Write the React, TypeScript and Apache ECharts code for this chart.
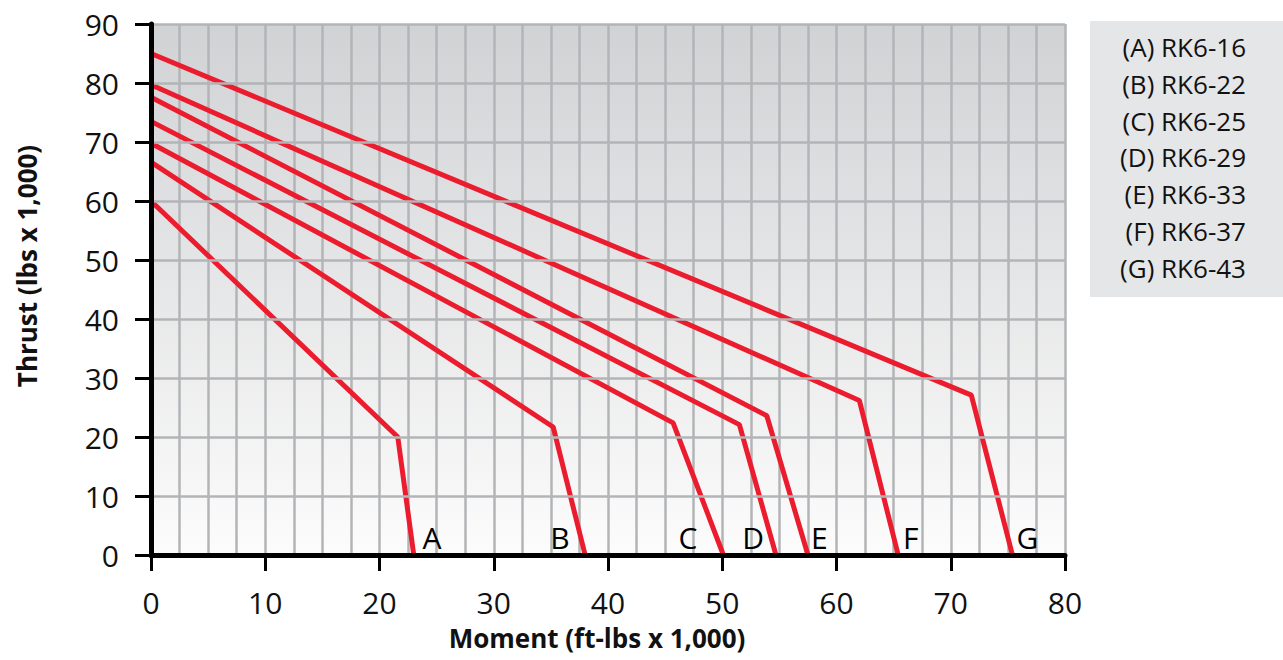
import React, { useEffect, useRef } from "react";
import * as echarts from "echarts";

const seriesNames = ["(A) RK6-16", "(B) RK6-22", "(C) RK6-25", "(D) RK6-29", "(E) RK6-33", "(F) RK6-37", "(G) RK6-43"];
const curveLetters = ["A", "B", "C", "D", "E", "F", "G"];
const thrustAtZero = [60, 66.6, 69.8, 73.5, 77.6, 79.7, 85];
const kneeMoment = [21.6, 35.2, 45.7, 51.5, 53.9, 62.0, 71.8];
const kneeThrust = [20, 21.7, 22.4, 22.1, 23.6, 26.2, 27.1];
const maxMoment = [23.0, 38.0, 50.1, 54.7, 57.5, 65.4, 75.4];
const letterMoment = [24.6, 35.8, 47.0, 52.7, 58.5, 66.5, 76.7];
const letterThrust = [3, 3, 3, 3, 3, 3, 3];
const xTitle = "Moment (ft-lbs x 1,000)";
const yTitle = "Thrust (lbs x 1,000)";

const FONT = "'Open Sans', 'Noto Sans', sans-serif";
const RED = "#ec1c2f";

export default function App() {
  const ref = useRef<HTMLDivElement>(null);
  useEffect(() => {
    if (!ref.current) return;
    const chart = echarts.init(ref.current, null, { renderer: "svg" });
    const lineSeries = seriesNames.map((name, i) => ({
      name,
      type: "line",
      xAxisIndex: 1,
      symbol: "none",
      lineStyle: { color: RED, width: 5 },
      data: [
        [0, thrustAtZero[i]],
        [kneeMoment[i], kneeThrust[i]],
        [maxMoment[i], 0],
      ],
      z: 3,
    }));
    const letterSeries = {
      type: "scatter",
      xAxisIndex: 1,
      symbolSize: 0,
      itemStyle: { opacity: 1 },
      data: curveLetters.map((l, i) => ({ value: [letterMoment[i], letterThrust[i]], name: l })),
      label: {
        show: true,
        position: "inside",
        formatter: (p: any) => p.name,
        color: "#000",
        fontSize: 30,
        fontFamily: FONT,
      },
      z: 4,
    };
    const legendTop = 47;
    const legendStep = 36.8;
    chart.setOption({
      animation: false,
      grid: {
        left: 151,
        right: 218,
        top: 24,
        bottom: 105,
        show: true,
        borderWidth: 0,
        backgroundColor: new echarts.graphic.LinearGradient(0, 0, 0, 1, [
          { offset: 0, color: "#d1d2d4" },
          { offset: 1, color: "#fcfcfc" },
        ]),
      },
      xAxis: [
        {
          type: "value",
          min: 0,
          max: 80,
          interval: 2.5,
          position: "top",
          axisLine: { show: false },
          axisTick: { show: false },
          axisLabel: { show: false },
          splitLine: { show: true, lineStyle: { color: "#b3b4b7", width: 2.5 } },
        },
        {
          type: "value",
          min: 0,
          max: 80,
          interval: 10,
          position: "bottom",
          axisLine: { show: true, lineStyle: { color: "#000", width: 5 } },
          axisTick: { show: true, length: 16, lineStyle: { color: "#000", width: 3 } },
          axisLabel: { fontFamily: FONT, fontSize: 30, color: "#111", margin: 32 },
          splitLine: { show: false },
          z: 5,
        },
      ],
      yAxis: {
        type: "value",
        min: 0,
        max: 90,
        interval: 10,
        axisLine: { show: true, lineStyle: { color: "#000", width: 5 } },
        axisTick: { show: true, length: 16, lineStyle: { color: "#000", width: 3 } },
        axisLabel: { fontFamily: FONT, fontSize: 30, color: "#111", margin: 32 },
        splitLine: { show: true, lineStyle: { color: "#b3b4b7", width: 2.5 } },
        z: 5,
      },
      series: [...lineSeries, letterSeries],
      graphic: [
        {
          type: "rect",
          shape: { x: 1090, y: 21, width: 193, height: 276 },
          style: { fill: "#e5e6e7" },
          z: 0,
        },
        ...seriesNames.map((name, i) => ({
          type: "text",
          x: 1246,
          y: legendTop + i * legendStep,
          style: {
            text: name,
            align: "right",
            verticalAlign: "middle",
            fontFamily: FONT,
            fontSize: 26,
            fill: "#111",
          },
          z: 1,
        })),
        {
          type: "text",
          x: 597,
          y: 638,
          style: {
            text: xTitle,
            align: "center",
            verticalAlign: "middle",
            fontFamily: FONT,
            fontWeight: "bold",
            fontSize: 26,
            fill: "#111",
          },
        },
        {
          type: "text",
          x: 27,
          y: 266,
          rotation: Math.PI / 2,
          style: {
            text: yTitle,
            align: "center",
            verticalAlign: "middle",
            fontFamily: FONT,
            fontWeight: "bold",
            fontSize: 26,
            fill: "#111",
          },
        },
      ],
    });
    return () => chart.dispose();
  }, []);
  return (
    <div
      ref={ref}
      style={{ position: "fixed", left: 0, top: 0, width: 1283, height: 660, background: "#fff" }}
    />
  );
}
